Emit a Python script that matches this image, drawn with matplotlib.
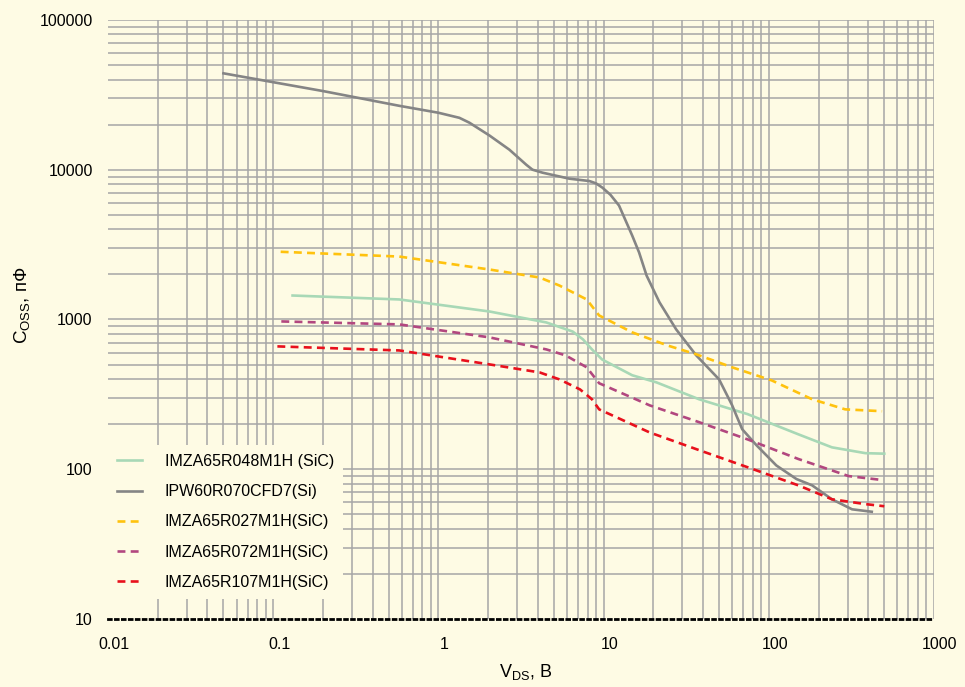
import numpy as np
import matplotlib
matplotlib.use("Agg")
import matplotlib.pyplot as plt
from matplotlib.transforms import ScaledTranslation

plt.rcParams['font.family'] = ['Liberation Sans', 'DejaVu Sans']
plt.rcParams['mathtext.fontset'] = 'custom'
plt.rcParams['mathtext.rm'] = 'Liberation Sans'
plt.rcParams['mathtext.default'] = 'rm'

BG = '#fefbe4'

# --- данные ---
x_ticks = [0.01, 0.1, 1, 10, 100, 1000]
x_tick_labels = ['0.01', '0.1', '1', '10', '100', '1000']
y_ticks = [10, 100, 1000, 10000, 100000]
y_tick_labels = ['10', '100', '1000', '10000', '100000']

# IMZA65R048M1H (SiC)
v_048 = [0.131, 0.58, 2.04, 4.5, 6.5, 7.5, 8.5, 9.8, 14.9, 20.9, 37.9, 74.6, 151, 241, 384, 500]
c_048 = [1445, 1360, 1130, 955, 830, 736, 631, 540, 424, 380, 293, 233, 171, 140, 128, 127]

# IPW60R070CFD7 (Si)
v_070 = [0.05, 0.2, 0.58, 1.0, 1.34, 1.54, 2.04, 2.69, 3.4, 3.71, 4.27, 6.2, 8.2, 9.0, 9.83,
         11.0, 12.4, 14.9, 16.4, 18.2, 21.8, 27.5, 36.4, 50, 60, 64, 69, 84, 111, 147, 183,
         241, 319, 420]
c_070 = [44000, 33500, 26700, 24000, 22200, 20600, 16900, 13600, 10800, 10000, 9550, 8710,
         8400, 8100, 7590, 6800, 5760, 3630, 2800, 1965, 1300, 858, 575, 398, 267, 225, 185,
         145, 106, 86, 78, 63, 54, 52]

# IMZA65R027M1H (SiC)
v_027 = [0.111, 0.58, 2.04, 4.1, 5.4, 7.9, 9.4, 14.9, 24.3, 36.4, 60, 104, 183, 290, 485]
c_027 = [2830, 2630, 2155, 1905, 1685, 1360, 1063, 820, 671, 585, 479, 392, 293, 251, 244]

# IMZA65R072M1H (SiC)
v_072 = [0.112, 0.58, 2.04, 4.5, 5.9, 7.9, 9.4, 19, 37.9, 74.6, 151, 304, 495]
c_072 = [970, 927, 759, 631, 575, 479, 375, 267, 206, 158, 117, 90, 84.5]

# IMZA65R107M1H (SiC)
v_107 = [0.106, 0.58, 2.04, 4.1, 5.4, 7.2, 8.5, 9.4, 19, 37.9, 74.6, 151, 241, 384, 500]
c_107 = [661, 621, 501, 443, 398, 341, 293, 251, 176, 134, 103, 78, 63, 58.5, 56.6]

fig = plt.figure(figsize=(9.65, 6.87), dpi=100, facecolor=BG)
ax = fig.add_axes([0.1119, 0.099, 0.856, 0.872])
ax.set_facecolor(BG)

lw = 1.9
dash = (0, (3, 2))
ax.plot(v_048, c_048, color='#a8d8b6', lw=lw, label='IMZA65R048M1H (SiC)')
ax.plot(v_070, c_070, color='#858585', lw=lw, label='IPW60R070CFD7(Si)')
ax.plot(v_027, c_027, color='#ffc20e', lw=lw, ls=dash, label='IMZA65R027M1H(SiC)')
ax.plot(v_072, c_072, color='#b2477f', lw=lw, ls=dash, label='IMZA65R072M1H(SiC)')
ax.plot(v_107, c_107, color='#e8101c', lw=lw, ls=dash, label='IMZA65R107M1H(SiC)')

ax.set_xscale('log')
ax.set_yscale('log')
ax.set_xlim(0.01, 1000)
ax.set_ylim(10, 100000)
ax.set_xticks(x_ticks)
ax.set_xticklabels(x_tick_labels)
ax.set_yticks(y_ticks)
ax.set_yticklabels(y_tick_labels)
ax.tick_params(which='both', length=0, labelsize=11.5)
ax.tick_params(axis='x', pad=13)
ax.tick_params(axis='y', pad=11)

# сетка
ax.grid(which='both', color='#a6a6a6', lw=1.1)
ax.set_axisbelow(True)
for t in ax.xaxis.get_major_ticks():
    if np.isclose(t.get_loc(), 0.01):
        t.gridline.set_visible(False)
for t in ax.yaxis.get_major_ticks():
    if np.isclose(t.get_loc(), 10):
        t.gridline.set_visible(False)

for s in ['top', 'right', 'left']:
    ax.spines[s].set_visible(False)
ax.spines['bottom'].set_linestyle((0, (1, 1.5)))
ax.spines['bottom'].set_linewidth(2.0)
ax.spines['bottom'].set_color('black')

# сдвиг подписей оси X немного вправо
off = ScaledTranslation(4.3 / 72, 0, fig.dpi_scale_trans)
for lab in ax.get_xticklabels():
    lab.set_transform(lab.get_transform() + off)

ax.set_xlabel(r'V$_{\mathrm{DS}}$, B', fontsize=13)
ax.xaxis.set_label_coords(0.505, -0.072)
ax.set_ylabel(r'C$_{\mathrm{OSS}}$, пФ', fontsize=13.5)
ax.yaxis.set_label_coords(-0.092, 0.524)

leg = ax.legend(loc='upper left', bbox_to_anchor=(0, 0.29), borderaxespad=0,
                borderpad=0.55, fontsize=11.5, handlelength=1.6, handletextpad=1.4,
                labelspacing=0.95, frameon=True, fancybox=False)
leg.get_frame().set_facecolor(BG)
leg.get_frame().set_edgecolor('none')
leg.get_frame().set_alpha(1)

fig.savefig('out.png', dpi=100, facecolor=BG)
